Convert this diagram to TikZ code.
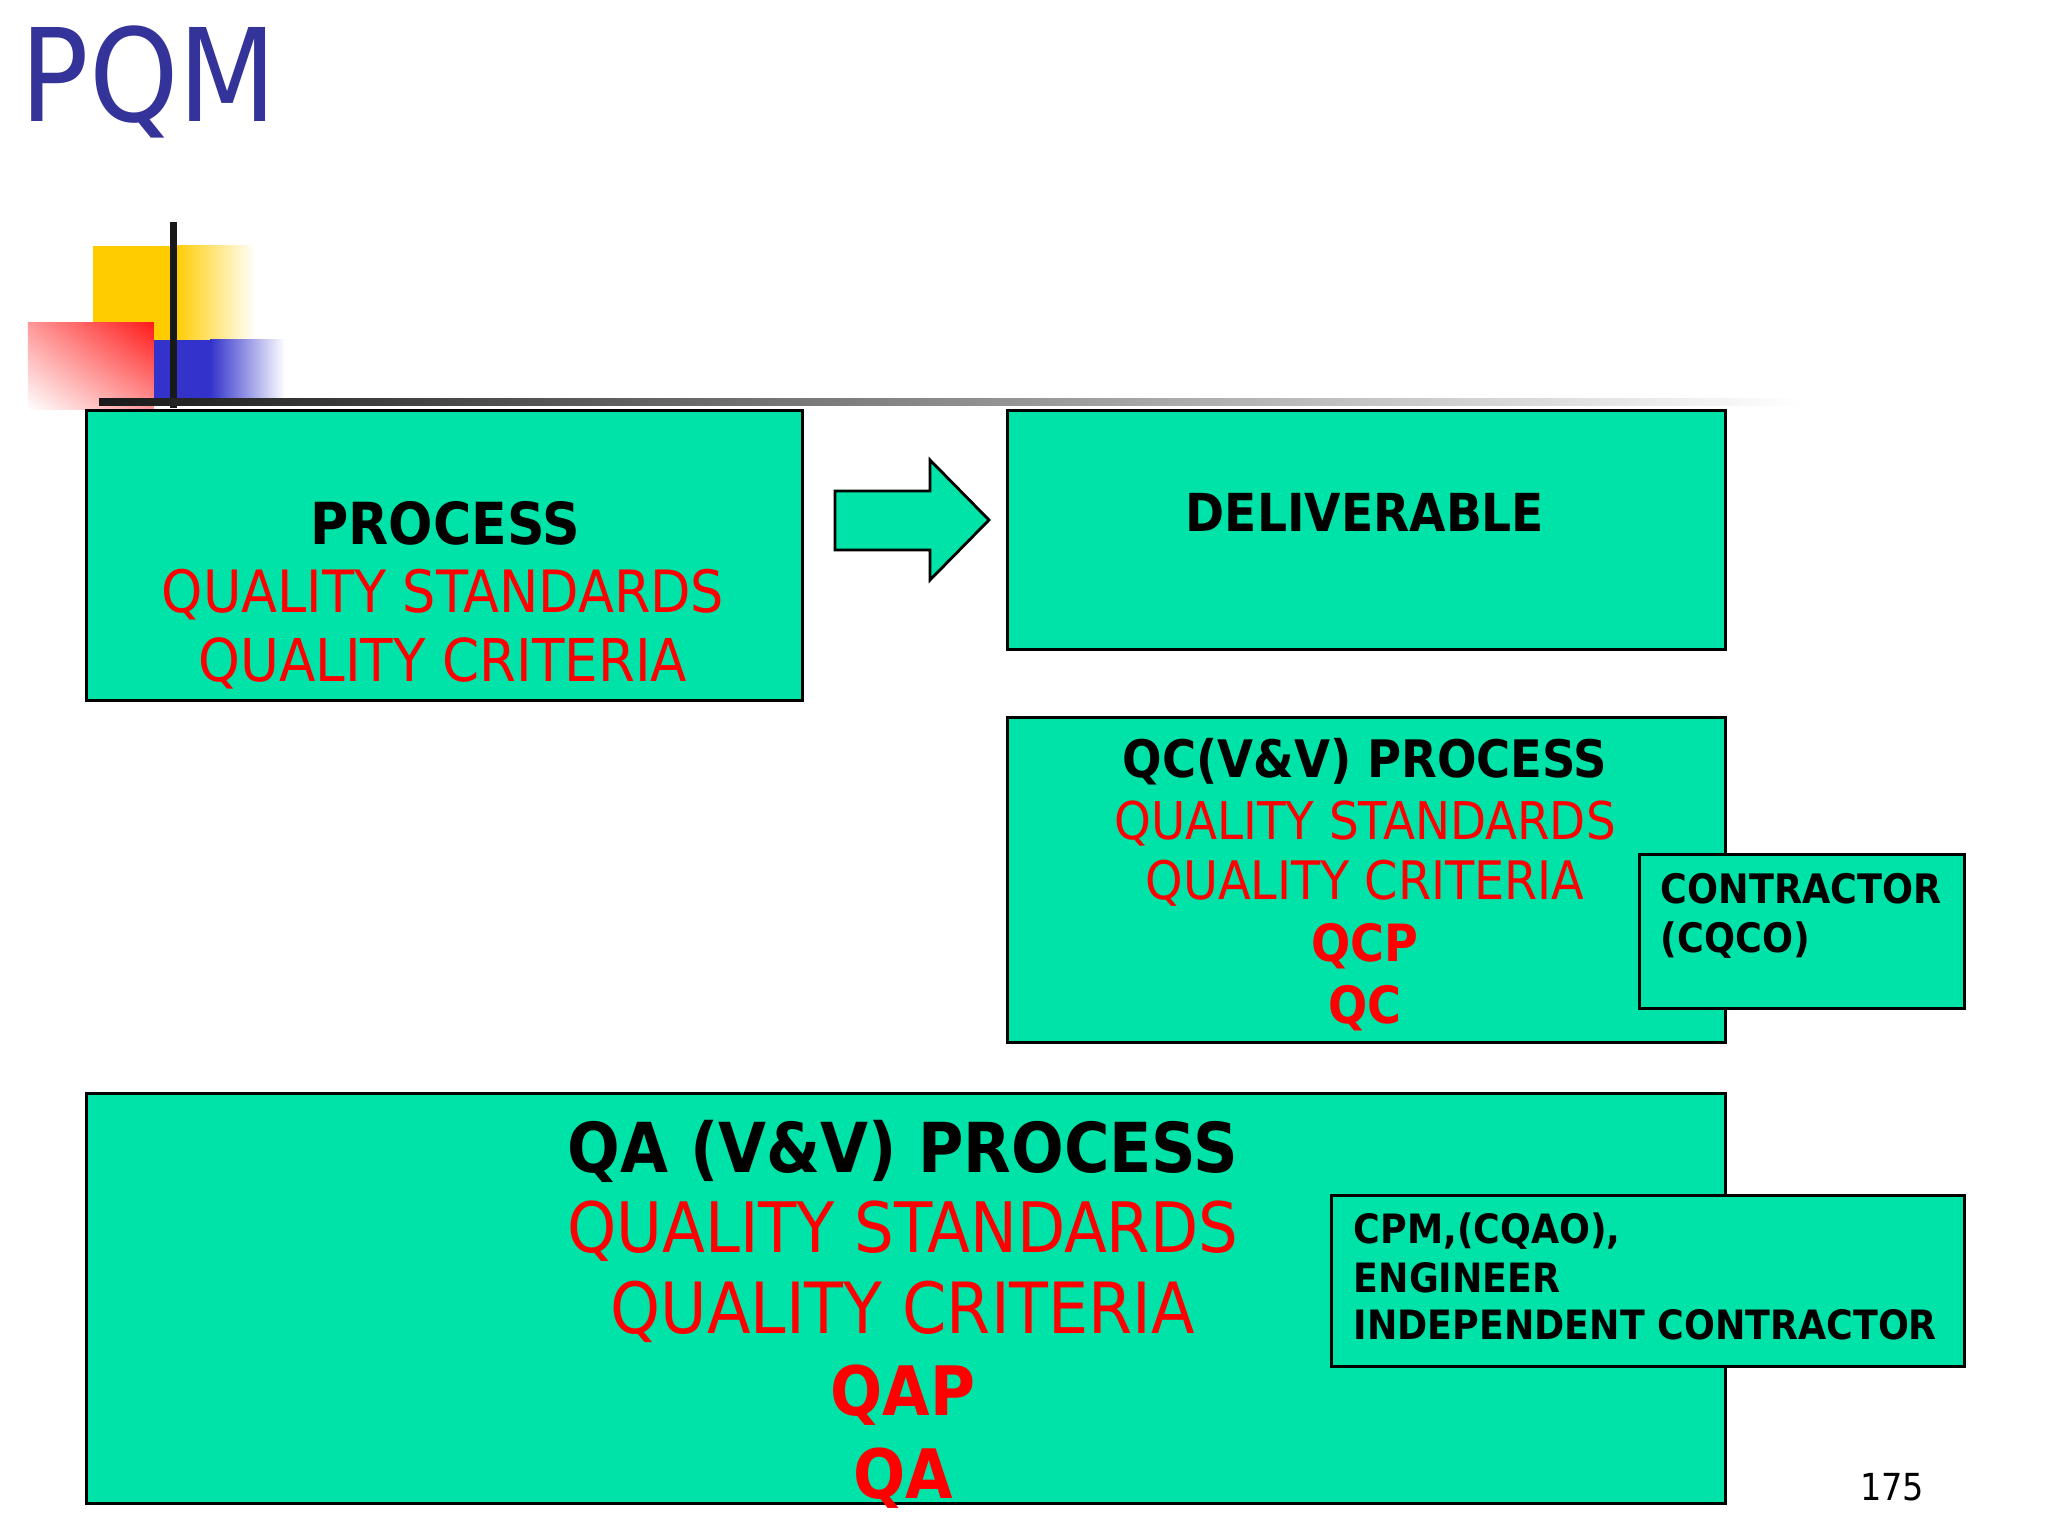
\documentclass[tikz,border=0pt]{standalone}
\usepackage{fontspec}
\setmainfont{DejaVu Sans Condensed}
\usetikzlibrary{positioning,shadings}
\definecolor{boxgreen}{HTML}{00E3A8}
\definecolor{titleblue}{HTML}{333399}
\definecolor{decoyellow}{HTML}{FFCC00}
\definecolor{decoblue}{HTML}{3333CC}
\definecolor{decored}{HTML}{FF1A1A}
\newcommand{\fsz}[1]{\fontsize{#1}{#1}\selectfont}
\tikzset{
  greenbox/.style={draw=black, line width=0.8pt, fill=boxgreen, rectangle, inner sep=0pt, anchor=north west},
  txt/.style={inner sep=0pt, anchor=base},
  redreg/.style={txt, text=red},
  blackbold/.style={txt, text=black, font=\bfseries},
  redbold/.style={txt, text=red, font=\bfseries},
}
\begin{document}
\begin{tikzpicture}
\useasboundingbox (0,0) rectangle (20.48,-15.36);
\fill[white] (0,0) rectangle (20.48,-15.36);

% title
\node[txt, anchor=base west, text=titleblue] (title) at (0.20,-1.22) {\fsz{36.7pt}\scalebox{0.98}[1]{PQM}};

% decoration
\fill[decoyellow] (0.93,-2.46) rectangle (1.75,-3.40);
\shade[left color=decoyellow, right color=white] (1.75,-2.46) rectangle (2.55,-3.40);
\shade[upper right=decored, upper left=decored!45, lower right=decored!45, lower left=white] (0.28,-3.23) rectangle (1.54,-4.10);
\fill[decoblue] (1.54,-3.40) rectangle (2.10,-4.00);
\shade[left color=decoblue, right color=white] (2.10,-3.40) rectangle (2.85,-4.00);
\fill[black!90] (1.695,-2.22) rectangle (1.765,-4.08);
\shade[left color=black!90, right color=white] (0.99,-3.985) rectangle (18.02,-4.055);

% boxes
\node[greenbox, minimum width=7.16cm, minimum height=2.90cm] (proc) at (0.85,-4.09) {};
\node[greenbox, minimum width=7.18cm, minimum height=2.39cm] (deliv) at (10.06,-4.09) {};
\node[greenbox, minimum width=7.18cm, minimum height=3.25cm] (qc) at (10.06,-7.16) {};
\node[greenbox, minimum width=3.25cm, minimum height=1.54cm] (contr) at (16.38,-8.53) {};
\node[greenbox, minimum width=16.39cm, minimum height=4.10cm] (qa) at (0.85,-10.92) {};
\node[greenbox, minimum width=6.33cm, minimum height=1.71cm] (cpm) at (13.30,-11.94) {};

% block arrow
\draw[fill=boxgreen, line width=0.8pt, line join=miter]
  (8.35,-4.91) -- (9.30,-4.91) -- (9.30,-4.60) -- (9.89,-5.20) -- (9.30,-5.80) -- (9.30,-5.50) -- (8.35,-5.50) -- cycle;

% PROCESS box text
\node[blackbold] (p1) at (4.45,-5.44) {\fsz{16.5pt}PROCESS};
\node[redreg] (p2) at (4.43,-6.13) {\fsz{16.6pt}QUALITY STANDARDS};
\node[redreg] (p3) at (4.43,-6.81) {\fsz{16.8pt}QUALITY CRITERIA};

% DELIVERABLE
\node[blackbold] (d1) at (13.65,-5.32) {\fsz{14.9pt}DELIVERABLE};

% QC box text
\node[blackbold] (q1) at (13.65,-7.78) {\fsz{14.7pt}QC(V\&V) PROCESS};
\node[redreg] (q2) at (13.65,-8.39) {\fsz{14.8pt}QUALITY STANDARDS};
\node[redreg] (q3) at (13.65,-9.00) {\fsz{15.1pt}QUALITY CRITERIA};
\node[redbold] (q4) at (13.65,-9.62) {\fsz{14.6pt}QCP};
\node[redbold] (q5) at (13.65,-10.23) {\fsz{14.6pt}QC};

% contractor
\node[blackbold, anchor=base west] (c1) at (16.60,-9.03) {\fsz{11.55pt}CONTRACTOR};
\node[blackbold, anchor=base west] (c2) at (16.60,-9.52) {\fsz{11.55pt}(CQCO)};

% QA box text
\node[blackbold] (a1) at (9.03,-11.72) {\fsz{19.6pt}QA (V\&V) PROCESS};
\node[redreg] (a2) at (9.03,-12.52) {\fsz{19.8pt}QUALITY STANDARDS};
\node[redreg] (a3) at (9.03,-13.33) {\fsz{20.1pt}QUALITY CRITERIA};
\node[redbold] (a4) at (9.03,-14.15) {\fsz{19.4pt}QAP};
\node[redbold] (a5) at (9.03,-14.98) {\fsz{19.4pt}QA};

% CPM box text
\node[blackbold, anchor=base west] (m1) at (13.53,-12.43) {\fsz{11.5pt}CPM,(CQAO),};
\node[blackbold, anchor=base west] (m2) at (13.53,-12.92) {\fsz{11.5pt}ENGINEER};
\node[blackbold, anchor=base west] (m3) at (13.53,-13.39) {\fsz{11.5pt}INDEPENDENT CONTRACTOR};

% page number
\node[txt, anchor=base east] (pg) at (19.25,-15.00) {\fsz{10.6pt}175};
\end{tikzpicture}
\end{document}
